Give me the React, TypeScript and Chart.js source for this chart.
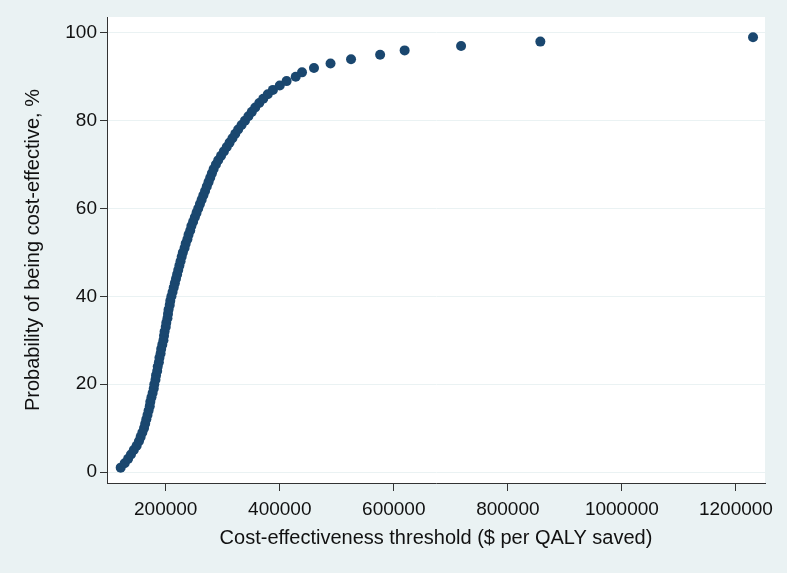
import React, { useEffect, useRef } from 'react';
import { Chart, registerables } from 'chart.js';

Chart.register(...registerables);

// Probability of being cost-effective (%)
const probabilities = [
  1, 2, 3, 4, 5, 6, 7, 8, 9, 10,
  11, 12, 13, 14, 15, 16, 17, 18, 19, 20,
  21, 22, 23, 24, 25, 26, 27, 28, 29, 30,
  31, 32, 33, 34, 35, 36, 37, 38, 39, 40,
  41, 42, 43, 44, 45, 46, 47, 48, 49, 50,
  51, 52, 53, 54, 55, 56, 57, 58, 59, 60,
  61, 62, 63, 64, 65, 66, 67, 68, 69, 70,
  71, 72, 73, 74, 75, 76, 77, 78, 79, 80,
  81, 82, 83, 84, 85, 86, 87, 88, 89, 90,
  91, 92, 93, 94, 95, 96, 97, 98, 99,
];

// Cost-effectiveness threshold ($ per QALY saved)
const thresholds = [
  121000, 128000, 134000, 139000, 144000, 149000, 153000, 156000, 159000, 162000,
  164000, 166000, 168000, 170000, 172000, 173000, 175000, 177000, 179000, 180000,
  182000, 183000, 185000, 186000, 188000, 189000, 191000, 192000, 194000, 196000,
  197000, 198000, 200000, 201000, 203000, 204000, 205000, 207000, 208000, 210000,
  212000, 214000, 216000, 218000, 220000, 222000, 224000, 226000, 228000, 230000,
  233000, 235000, 238000, 240000, 243000, 245000, 248000, 251000, 254000, 257000,
  260000, 263000, 266000, 269000, 272000, 275000, 278000, 281000, 284000, 288000,
  292000, 297000, 302000, 307000, 312000, 317000, 322000, 327000, 333000, 339000,
  345000, 351000, 357000, 364000, 371000, 379000, 388000, 400000, 412000, 428000,
  439000, 460000, 489000, 525000, 576000, 619000, 718000, 857000, 1230000,
];

const xTickValues = [200000, 400000, 600000, 800000, 1000000, 1200000];
const yTickValues = [0, 20, 40, 60, 80, 100];

const xTitle = 'Cost-effectiveness threshold ($ per QALY saved)';
const yTitle = 'Probability of being cost-effective, %';

const FONT = 'Liberation Sans, Arial, Helvetica, sans-serif';

const bgPlugin = {
  id: 'stataBg',
  beforeDraw(chart: any) {
    const { ctx, chartArea } = chart;
    ctx.save();
    ctx.fillStyle = '#eaf2f3';
    ctx.fillRect(0, 0, chart.width, chart.height);
    ctx.fillStyle = '#ffffff';
    ctx.fillRect(chartArea.left, chartArea.top, chartArea.right - chartArea.left, chartArea.bottom - chartArea.top);
    ctx.restore();
  },
};

export default function App() {
  const ref = useRef<HTMLCanvasElement | null>(null);

  useEffect(() => {
    if (!ref.current) return;
    const data = thresholds.map((x, i) => ({ x, y: probabilities[i] }));
    const chart = new Chart(ref.current, {
      type: 'scatter',
      data: {
        datasets: [
          {
            data,
            backgroundColor: '#1a476f',
            borderColor: '#1a476f',
            borderWidth: 0,
            pointRadius: 5,
            pointHoverRadius: 5,
          },
        ],
      },
      options: {
        responsive: false,
        animation: false,
        events: [],
        layout: { padding: { top: 17, right: 22, left: 21, bottom: 23 } },
        plugins: {
          legend: { display: false },
          tooltip: { enabled: false },
        },
        scales: {
          x: {
            type: 'linear',
            min: 97000,
            max: 1251000,
            afterBuildTicks: (scale: any) => {
              scale.ticks = xTickValues.map((v) => ({ value: v }));
            },
            afterFit: (scale: any) => {
              scale.height = 67;
            },
            grid: {
              drawOnChartArea: false,
              drawTicks: true,
              tickLength: 8,
              tickColor: '#333333',
            },
            border: { display: true, color: '#333333', width: 1 },
            ticks: {
              autoSkip: false,
              maxRotation: 0,
              minRotation: 0,
              padding: 7,
              color: '#111111',
              font: { family: FONT, size: 19 },
              callback: (v: any) => String(v),
            },
            title: {
              display: true,
              text: xTitle,
              color: '#111111',
              font: { family: FONT, size: 20 },
              padding: { top: 0, bottom: 0 },
            },
          },
          y: {
            type: 'linear',
            min: -2.5,
            max: 103.6,
            afterBuildTicks: (scale: any) => {
              scale.ticks = yTickValues.map((v) => ({ value: v }));
            },
            afterFit: (scale: any) => {
              scale.width = 86;
            },
            grid: {
              drawOnChartArea: true,
              color: '#eaf2f3',
              lineWidth: 1,
              drawTicks: true,
              tickLength: 7,
              tickColor: '#333333',
            },
            border: { display: true, color: '#333333', width: 1 },
            ticks: {
              autoSkip: false,
              padding: 3,
              color: '#111111',
              font: { family: FONT, size: 19 },
              callback: (v: any) => String(v),
            },
            title: {
              display: true,
              text: yTitle,
              color: '#111111',
              font: { family: FONT, size: 20 },
              padding: { top: 0, bottom: 0 },
            },
          },
        },
      },
      plugins: [bgPlugin],
    });
    return () => chart.destroy();
  }, []);

  return (
    <div style={{ position: 'fixed', left: 0, top: 0, width: 787, height: 573, background: '#eaf2f3' }}>
      <canvas ref={ref} width={787} height={573} style={{ display: 'block' }} />
    </div>
  );
}
